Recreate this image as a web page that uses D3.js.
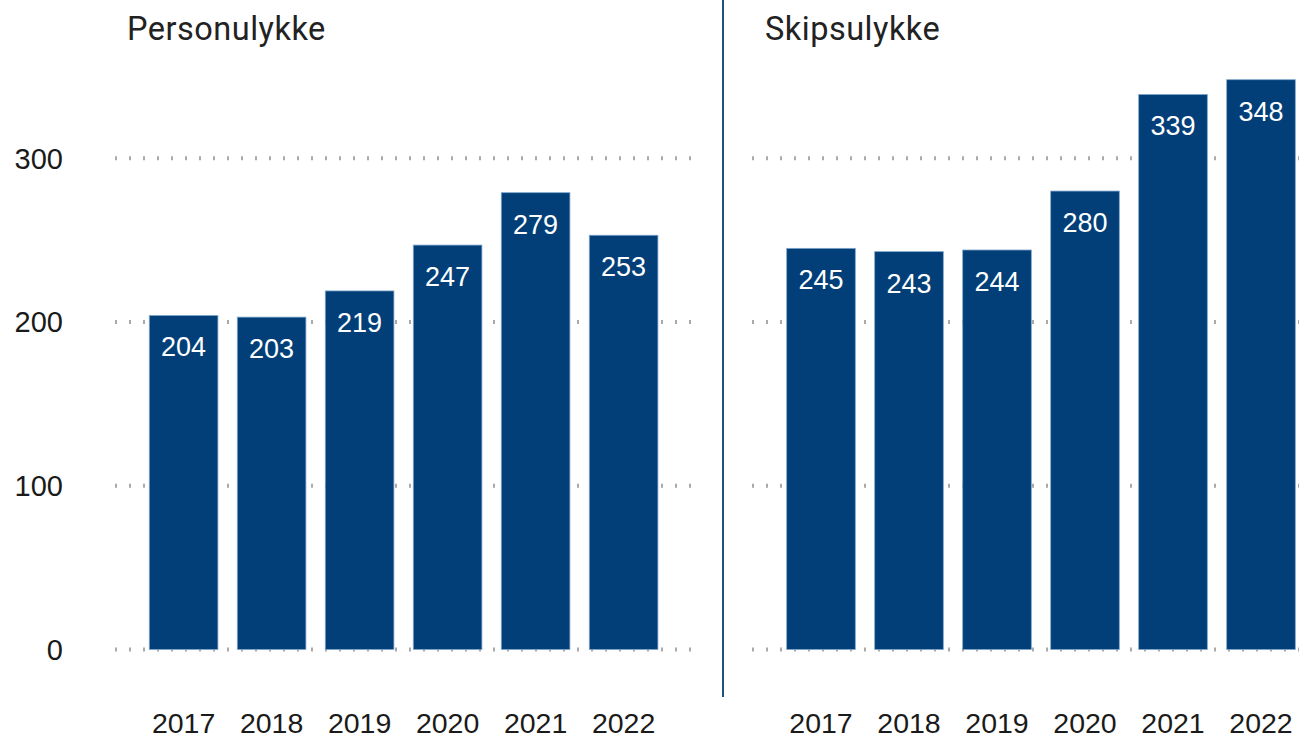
<!DOCTYPE html>
<html>
<head>
<meta charset="utf-8">
<script src="https://cdn.jsdelivr.net/npm/d3@7"></script>
<style>
  body { margin: 0; background: #fff; }
  svg { display: block; }
</style>
</head>
<body>
<div class="stage"></div>
<script>
// chart size
var width = 1299;
var height = 738;

// data
var years = ['2017', '2018', '2019', '2020', '2021', '2022'];
var personulykke = [204, 203, 219, 247, 279, 253];
var skipsulykke = [245, 243, 244, 280, 339, 348];
var yTicks = [0, 100, 200, 300];
var titles = ['Personulykke', 'Skipsulykke'];

var barColor = '#023f78';

var svg = d3.select('.stage')
  .append('svg')
  .attr('width', width)
  .attr('height', height);

// shared value scale
var y = d3.scaleLinear()
  .domain([0, 300])
  .range([649.5, 158.3]);

var drawPanel = function(opts) {
  var g = svg.append('g');

  var x = d3.scaleBand()
    .domain(years)
    .range(opts.xRange)
    .paddingInner(0.22)
    .paddingOuter(0.11);

  // dotted gridlines
  g.selectAll('line.grid')
    .data(yTicks)
    .enter()
    .append('line')
    .attr('class', 'grid')
    .attr('x1', opts.gridX[0])
    .attr('x2', opts.gridX[1])
    .attr('y1', function(d) { return y(d); })
    .attr('y2', function(d) { return y(d); })
    .attr('stroke', '#aaaaaa')
    .attr('stroke-width', 4)
    .attr('stroke-dasharray', '2 12');

  // bars
  g.selectAll('rect')
    .data(opts.values)
    .enter()
    .append('rect')
    .attr('x', function(d, i) { return x(years[i]); })
    .attr('y', function(d) { return y(d); })
    .attr('width', x.bandwidth())
    .attr('height', function(d) { return y(0) - y(d); })
    .attr('fill', barColor)
    .attr('stroke', '#7fa6cc')
    .attr('stroke-width', 0.8);

  // value labels
  g.selectAll('text.val')
    .data(opts.values)
    .enter()
    .append('text')
    .attr('class', 'val')
    .attr('x', function(d, i) { return x(years[i]) + x.bandwidth() / 2; })
    .attr('y', function(d) { return y(d) + 41; })
    .attr('text-anchor', 'middle')
    .attr('font-family', 'Liberation Sans, Arial, sans-serif')
    .attr('font-size', 27)
    .attr('fill', '#fff')
    .text(function(d) { return d; });

  // year labels
  g.selectAll('text.year')
    .data(years)
    .enter()
    .append('text')
    .attr('class', 'year')
    .attr('x', function(d) { return x(d) + x.bandwidth() / 2; })
    .attr('y', 733)
    .attr('text-anchor', 'middle')
    .attr('font-family', 'Liberation Sans, Arial, sans-serif')
    .attr('font-size', 28.5)
    .attr('fill', '#1a1a1a')
    .text(function(d) { return d; });

  // panel title
  g.append('text')
    .attr('x', opts.titleX)
    .attr('y', 40)
    .attr('font-family', 'Roboto, sans-serif')
    .attr('font-size', 32.5)
    .attr('letter-spacing', 0.5)
    .attr('fill', '#222')
    .text(opts.title);
};

drawPanel({
  values: personulykke,
  xRange: [139.6, 667.6],
  gridX: [115, 692],
  titleX: 127,
  title: titles[0]
});

drawPanel({
  values: skipsulykke,
  xRange: [777, 1305],
  gridX: [752, 1299],
  titleX: 765,
  title: titles[1]
});

// y axis labels (left panel only)
svg.selectAll('text.ytick')
  .data(yTicks)
  .enter()
  .append('text')
  .attr('class', 'ytick')
  .attr('x', 63)
  .attr('y', function(d) { return y(d); })
  .attr('dy', '0.36em')
  .attr('text-anchor', 'end')
  .attr('font-family', 'Liberation Sans, Arial, sans-serif')
  .attr('font-size', 29)
  .attr('fill', '#1a1a1a')
  .text(function(d) { return d; });

// divider between panels
svg.append('line')
  .attr('x1', 723)
  .attr('x2', 723)
  .attr('y1', 0)
  .attr('y2', 697)
  .attr('stroke', '#1f527f')
  .attr('stroke-width', 2);
</script>
</body>
</html>
